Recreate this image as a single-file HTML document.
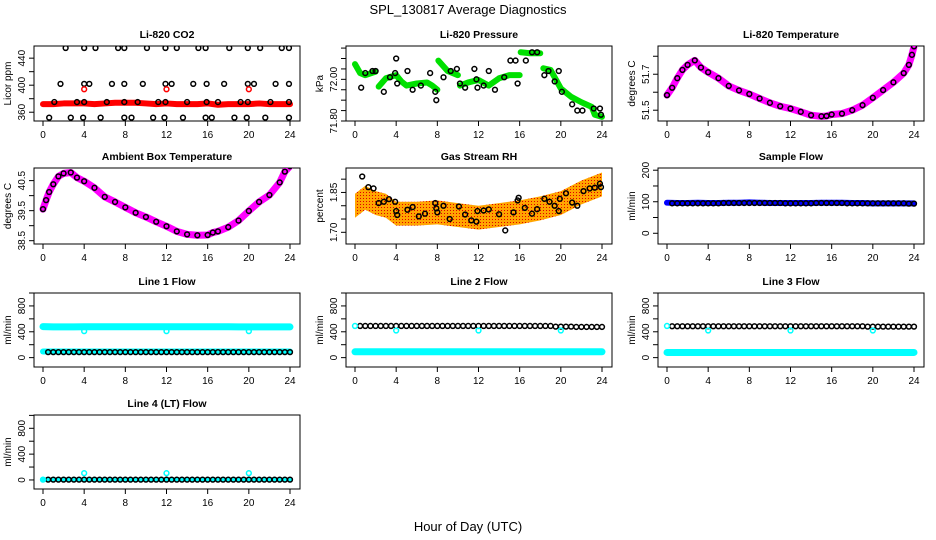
<!DOCTYPE html>
<html><head><meta charset="utf-8"><style>
body{margin:0;background:#fff}
svg{display:block;font-family:"Liberation Sans",sans-serif}
</style></head><body>
<svg id="c" width="936" height="540">
<text x="468" y="14" text-anchor="middle" font-size="13">SPL_130817  Average Diagnostics</text>
<text x="468" y="531" text-anchor="middle" font-size="13">Hour of Day (UTC)</text>
<defs><pattern id="rh" width="3" height="3" patternUnits="userSpaceOnUse"><rect width="3" height="3" fill="#ffa500"/><rect width="1" height="1" fill="#e00000"/></pattern></defs>
</svg>
<script>
// ---- data ----
const hours = [0,1,2,3,4,5,6,7,8,9,10,11,12,13,14,15,16,17,18,19,20,21,22,23,24];
const co2Band = [372,372,373,373,373,372,373,374,374,374,373,372,373,372,372,372,373,371,372,372,372,373,372,372,372];
const co2HighT = [2.2,4,5.1,7.3,7.9,10.1,11.9,13,15.1,15.8,18.1,19.9,21.1,23.2,23.9];
const co2MidT = [1.7,4,4.5,6.7,7.9,9.7,11.9,12.5,14.6,15.9,17.6,19.9,20.5,22.6,23.9];
const co2LowT = [1.1,3.3,4,6.2,7.9,9.2,11.2,11.9,14,15.9,17,19.2,19.9,22.1,23.9];
const co2MinT = [0.6,2.7,3.9,5.6,7.9,8.6,10.7,11.8,13.6,15.8,16.4,18.6,19.8,21.6,23.9];
const co2Levels = [455,402,375,352];
const co2RedT = [4,12,20];
const co2RedV = [394,394,394];
const presT = [0,0.5,1,2,null,2.3,3,4,4.5,5,6,7,7.5,8,null,8.1,9,10,null,10.2,11,12,13,14,15,16,null,16.1,17,18,null,18.3,19,20,21,22,23,23.3,24];
const presV = [72.073,72.03,72.02,72.037,null,71.965,72.005,72.02,71.99,71.97,71.98,71.985,71.97,71.95,null,72.09,72.04,72.02,null,71.97,71.985,71.997,71.97,72.005,72.02,72.02,null,72.13,72.125,72.125,null,72.053,72.045,71.956,71.916,71.89,71.868,71.83,71.82];
const presPtT = [0.6,1,1.7,2,2.8,3.4,3.9,4,4.1,5.1,5.6,6.4,7.3,7.8,7.9,8.6,9.3,9.9,10.2,10.7,11.6,11.8,11.9,12.5,13,13.6,14.5,15.1,15.6,15.8,16.6,17.2,17.7,18.4,18.8,19.4,19.8,20.1,21.1,21.6,22.1,23.2,23.8,23.9];
const presPtV = [71.96,72.03,72.04,72.04,71.94,72.01,72.03,72.1,71.98,72.04,71.95,71.97,72.03,71.94,71.9,72.01,72.04,72.05,71.98,71.96,72.05,72.0,71.96,71.97,72.04,71.95,72.01,72.09,72.09,71.98,72.09,72.13,72.13,72.02,72.04,71.99,72.04,71.94,71.88,71.85,71.85,71.86,71.86,71.83];
const tempT = [0,0.5,1,1.5,2,2.7,3.3,4,5,6,7,8,9,10,11,12,13,14,15,15.5,16,17,18,19,20,21,22,23,23.5,23.8,24];
const tempV = [51.584,51.625,51.678,51.724,51.752,51.777,51.737,51.711,51.678,51.635,51.610,51.590,51.565,51.541,51.522,51.509,51.491,51.472,51.466,51.468,51.476,51.481,51.500,51.528,51.569,51.612,51.655,51.706,51.752,51.808,51.855];
const ambT = [0,0.3,0.6,1,1.5,2,2.7,3.3,4,5,6,7,8,9,10,11,12,13,14,15,16,16.5,17,18,19,20,21,22,23,23.5,24];
const ambV = [39.55,39.85,40.12,40.38,40.64,40.74,40.77,40.60,40.48,40.26,39.96,39.79,39.61,39.43,39.29,39.13,38.98,38.81,38.71,38.68,38.69,38.77,38.81,38.95,39.17,39.49,39.79,40.02,40.44,40.80,40.98];
const rhT = [0,1,2,3,4,6,8,10,12,14,16,18,20,22,24];
const rhMean = [1.80,1.83,1.81,1.80,1.77,1.77,1.775,1.765,1.755,1.765,1.775,1.79,1.81,1.85,1.88];
const rhPtT = [0.7,1.3,1.8,2.3,2.8,3.3,3.9,4,4.1,5.1,5.6,6.2,6.8,7.8,7.9,8,8.6,9.2,10.1,10.7,11.3,11.8,11.9,12.5,13,14,14.6,15.4,15.8,15.9,16.5,17.2,17.7,18.4,18.9,19.4,19.8,19.9,20.5,21.1,21.6,22.2,22.8,23.3,23.8,23.9];
const rhPtV = [1.91,1.87,1.865,1.81,1.815,1.825,1.815,1.78,1.765,1.785,1.795,1.76,1.77,1.81,1.79,1.775,1.80,1.75,1.797,1.767,1.745,1.74,1.78,1.782,1.786,1.768,1.707,1.775,1.82,1.83,1.792,1.77,1.787,1.826,1.815,1.80,1.78,1.826,1.847,1.812,1.80,1.855,1.865,1.868,1.883,1.87];
const sampleBand = [97,96,96,97,96,96,97,97,98,97,96,96,96,96,96,97,97,97,96,96,95,95,95,95,95];
const sampleBlack = [95,95,95,95,95,95,96,96,96,96,96,96,95,95,95,96,96,96,95,95,95,95,95,95,94];
const l1Cyan = [480,475,475,475,478,478,478,478,478,478,478,478,478,478,478,478,478,478,478,475,475,475,475,475,475];
const l1Black = [85,85,85,85,85,85,85,85,85,85,85,85,85,85,85,85,85,85,85,85,85,85,85,85,85];
const l1OutT = [4,12,20];
const l1OutV = [410,410,410];
const l2Black = [490,490,490,490,490,490,490,490,490,490,490,490,490,490,490,490,490,490,490,490,480,480,475,475,475];
const l2Cyan = [90,90,90,90,90,90,90,90,90,90,90,90,90,90,90,90,90,90,90,90,90,90,90,90,90];
const l2OutT = [0,4,12,20];
const l2OutV = [490,420,420,420];
const l3Black = [485,485,485,485,485,485,485,485,485,485,485,485,485,485,485,485,485,485,485,485,480,480,480,480,480];
const l3Cyan = [80,80,80,80,80,80,80,80,80,80,80,80,80,80,80,80,80,80,80,80,80,80,80,80,80];
const l3OutT = [0,4,12,20];
const l3OutV = [490,420,420,420];
const l4Black = [5,5,5,5,5,5,5,5,5,5,5,5,5,5,5,5,5,5,5,5,5,5,5,5,5];
const l4OutT = [0,4,12,20];
const l4OutV = [5,105,105,105];
const xTicks = [0,4,8,12,16,20,24];

// ---- drawing ----
const svg = document.getElementById('c');
const NS = 'http://www.w3.org/2000/svg';
function mk(tag, attrs, parent){const e=document.createElementNS(NS,tag);for(const k in attrs)e.setAttribute(k,attrs[k]);(parent||svg).appendChild(e);return e;}
const cols=[34,346,658], rows=[[46,121],[168,244],[293,367],[415,489]];
function panel(name,col,row,ydom,yticks,ylabels,ytitle,title,fmt){
  const L=cols[col],R=L+266,T=rows[row][0],B=rows[row][1];
  const g=mk('g',{});
  
  
  const x=t=>L+9+t/24*247;
  const y=v=>B-(v-ydom[0])/(ydom[1]-ydom[0])*(B-T);
  const box=mk('rect',{x:L,y:T,width:266,height:B-T,fill:'none',stroke:'#000','stroke-width':1},g);
  
  
  const tt=mk('text',{x:(L+R)/2,y:T-8,'text-anchor':'middle','font-size':10.5,'font-weight':'bold'},g);
  tt.textContent=title;
  
  
  const yt=mk('text',{transform:`translate(${L-23},${(T+B)/2}) rotate(-90)`,'text-anchor':'middle','font-size':10},g);
  yt.textContent=ytitle;
  
  
  xTicks.forEach(t=>{mk('line',{x1:x(t),x2:x(t),y1:B,y2:B+5,stroke:'#000'},g);
    const l=mk('text',{x:x(t),y:B+17,'text-anchor':'middle','font-size':10},g);l.textContent=t;
    
    });
  yticks.forEach(v=>{const yy=y(v);if(yy<T-1||yy>B+1)return;mk('line',{x1:L-5,x2:L,y1:yy,y2:yy,stroke:'#000'},g);});
  ylabels.forEach(v=>{const l=mk('text',{transform:`translate(${L-9},${y(v)}) rotate(-90)`,'text-anchor':'middle','font-size':10},g);l.textContent=fmt?fmt(v):v;
    
    });
  const cp='cp'+name;const c=mk('clipPath',{id:cp},g);mk('rect',{x:L,y:T,width:266,height:B-T},c);
  const dg=mk('g',{'clip-path':`url(#${cp})`},g);
  return {x,y,g:dg,name};
}
function band(p,ts,vs,color,w){let d='',pen=false;ts.forEach((t,i)=>{if(t===null||vs[i]===null){pen=false;return;}d+=(pen?'L':'M')+p.x(t)+' '+p.y(vs[i]);pen=true;});
  const e=mk('path',{d,fill:'none',stroke:color,'stroke-width':w,'stroke-linecap':'round','stroke-linejoin':'round'},p.g);
  
  }
function pts(p,ts,vs,color){ts.forEach((t,i)=>{if(t===null)return;const e=mk('circle',{cx:p.x(t),cy:p.y(vs[i]),r:2.4,fill:'none',stroke:color,'stroke-width':1.5},p.g);
  
  });}
const rng=(a,b,s)=>{const r=[];for(let v=a;v<=b+1e-9;v+=s)r.push(+v.toFixed(3));return r;};

let p;
p=panel('co2',0,0,[347,458],rng(360,460,20),[360,400,440],'Licor ppm','Li-820 CO2');
band(p,hours,co2Band,'#ff0000',6);
[co2HighT,co2MidT,co2LowT,co2MinT].forEach((ts,k)=>pts(p,ts,ts.map(()=>co2Levels[k]),'#000'));
pts(p,co2RedT,co2RedV,'#ff0000');

p=panel('pressure',1,0,[71.80,72.16],rng(71.80,72.15,0.05),[71.80,72.00],'kPa','Li-820 Pressure',v=>v.toFixed(2));
band(p,presT,presV,'#00e000',6);
pts(p,presPtT,presPtV,'#000');

p=panel('li820-temp',2,0,[51.44,51.857],[51.5,51.6,51.7,51.8],[51.5,51.7],'degrees C','Li-820 Temperature',v=>v.toFixed(1));
band(p,tempT,tempV,'#ff00ff',7);
pts(p,tempT,tempV,'#000');

p=panel('ambient-temp',0,1,[38.39,40.92],rng(38.5,41,0.5),[38.5,39.5,40.5],'degrees C','Ambient Box Temperature',v=>v.toFixed(1));
band(p,ambT,ambV,'#ff00ff',7);
pts(p,ambT,ambV,'#000');

p=panel('rh',1,1,[1.656,1.942],rng(1.70,1.90,0.05),[1.70,1.85],'percent','Gas Stream RH',v=>v.toFixed(2));
{let d='';rhT.forEach((t,i)=>{d+=(i?'L':'M')+p.x(t)+' '+p.y(rhMean[i]+0.045);});
 for(let i=rhT.length-1;i>=0;i--)d+='L'+p.x(rhT[i])+' '+p.y(rhMean[i]-0.045);
 const e=mk('path',{d:d+'Z',fill:'url(#rh)'},p.g);
 
 }
pts(p,rhPtT,rhPtV,'#000');

p=panel('sample-flow',2,1,[-34,207],[0,50,100,150,200],[0,100,200],'ml/min','Sample Flow');
band(p,hours,sampleBand,'#0000ff',6);
pts(p,hours.slice(1),sampleBlack.slice(1),'#000');
pts(p,hours.slice(1).map(h=>h-0.5),sampleBlack.slice(1),'#000');

const fl=[-145,1000], ft=rng(0,1000,200), fll=[0,400,800];
p=panel('line1-flow',0,2,fl,ft,fll,'ml/min','Line 1 Flow');
band(p,hours,l1Cyan,'#00ffff',7);
band(p,hours,l1Black.map(v=>v+10),'#00ffff',6);
pts(p,hours.slice(1),l1Black.slice(1),'#000');
pts(p,hours.slice(1).map(h=>h-0.5),l1Black.slice(1),'#000');
pts(p,l1OutT,l1OutV,'#00ffff');

p=panel('line2-flow',1,2,fl,ft,fll,'ml/min','Line 2 Flow');
band(p,hours,l2Cyan,'#00ffff',7);
pts(p,hours.slice(1),l2Black.slice(1),'#000');
pts(p,hours.slice(1).map(h=>h-0.5),l2Black.slice(1),'#000');
pts(p,l2OutT,l2OutV,'#00ffff');

p=panel('line3-flow',2,2,fl,ft,fll,'ml/min','Line 3 Flow');
band(p,hours,l3Cyan,'#00ffff',7);
pts(p,hours.slice(1),l3Black.slice(1),'#000');
pts(p,hours.slice(1).map(h=>h-0.5),l3Black.slice(1),'#000');
pts(p,l3OutT,l3OutV,'#00ffff');

p=panel('line4-flow',0,3,[-140,1006],ft,fll,'ml/min','Line 4 (LT) Flow');
band(p,hours,l4Black,'#00ffff',4);
pts(p,hours.slice(1),l4Black.slice(1),'#000');
pts(p,hours.slice(1).map(h=>h-0.5),l4Black.slice(1),'#000');
pts(p,l4OutT,l4OutV,'#00ffff');
</script>
</body></html>
